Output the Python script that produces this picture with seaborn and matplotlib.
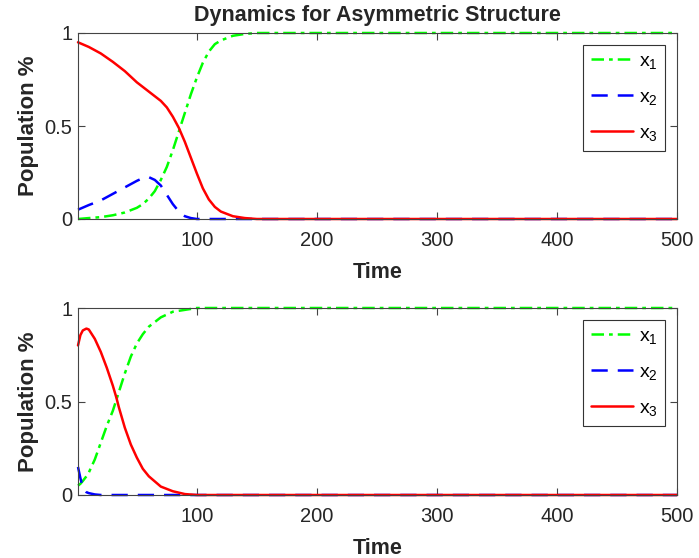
import matplotlib
matplotlib.use("Agg")
import matplotlib.pyplot as plt
import seaborn as sns
import pandas as pd

# values (time, share of population)
t_top = [1, 10, 20, 30, 40, 50, 55, 60, 65, 70, 75, 80, 85, 90, 95, 100, 105, 110, 115, 120, 130, 140, 150, 200, 300, 400, 500]
x1_top = [0.0, 0.005, 0.01, 0.02, 0.035, 0.06, 0.08, 0.11, 0.15, 0.21, 0.28, 0.37, 0.47, 0.57, 0.67, 0.76, 0.84, 0.90, 0.94, 0.96, 0.985, 0.995, 1.0, 1.0, 1.0, 1.0, 1.0]
x2_top = [0.05, 0.075, 0.10, 0.135, 0.17, 0.205, 0.22, 0.225, 0.21, 0.18, 0.13, 0.08, 0.04, 0.015, 0.005, 0.0, 0.0, 0.0, 0.0, 0.0, 0.0, 0.0, 0.0, 0.0, 0.0, 0.0, 0.0]
x3_top = [0.95, 0.925, 0.89, 0.845, 0.795, 0.735, 0.71, 0.685, 0.66, 0.635, 0.60, 0.55, 0.49, 0.415, 0.33, 0.245, 0.165, 0.105, 0.065, 0.04, 0.015, 0.005, 0.0, 0.0, 0.0, 0.0, 0.0]

t_bot = [1, 3, 5, 8, 10, 15, 20, 25, 30, 33, 35, 40, 45, 50, 55, 60, 70, 80, 90, 100, 200, 300, 400, 500]
x1_bot = [0.05, 0.06, 0.075, 0.10, 0.12, 0.19, 0.28, 0.37, 0.45, 0.51, 0.55, 0.65, 0.74, 0.81, 0.86, 0.90, 0.95, 0.98, 0.99, 1.0, 1.0, 1.0, 1.0, 1.0]
x2_bot = [0.15, 0.09, 0.04, 0.015, 0.01, 0.003, 0.0, 0.0, 0.0, 0.0, 0.0, 0.0, 0.0, 0.0, 0.0, 0.0, 0.0, 0.0, 0.0, 0.0, 0.0, 0.0, 0.0, 0.0]
x3_bot = [0.80, 0.855, 0.88, 0.89, 0.885, 0.835, 0.765, 0.68, 0.585, 0.52, 0.47, 0.36, 0.27, 0.20, 0.14, 0.10, 0.045, 0.02, 0.005, 0.0, 0.0, 0.0, 0.0, 0.0]

series_labels = ["x$_1$", "x$_2$", "x$_3$"]
x_ticks = [100, 200, 300, 400, 500]
y_ticks = [0, 0.5, 1]
y_ticklabels = ["0", "0.5", "1"]

sns.set_style("ticks")
plt.rcParams["font.family"] = ["Liberation Sans", "DejaVu Sans"]
plt.rcParams["mathtext.fontset"] = "custom"
plt.rcParams["mathtext.rm"] = "Liberation Sans"
plt.rcParams["mathtext.it"] = "Liberation Sans"
plt.rcParams["mathtext.default"] = "regular"

estilos = [("#00ff00", (0, (5, 2, 1.5, 2))), ("#0000ff", (0, (6.5, 4))), ("#ff0000", "-")]
texto = "#262626"

fig = plt.figure(figsize=(6.99, 5.58), dpi=100)
W, H = 699, 558
ax_top = fig.add_axes([78 / W, 1 - 219 / H, 599 / W, 186 / H])
ax_bot = fig.add_axes([78 / W, 1 - 495 / H, 599 / W, 187 / H])


def desenha(ax, t, series):
    for (cor, ls), y, lab in zip(estilos, series, series_labels):
        df = pd.DataFrame({"t": t, "v": y})
        sns.lineplot(data=df, x="t", y="v", ax=ax, color=cor, linestyle=ls,
                     linewidth=1.8, label=lab, clip_on=False)
    ax.set_xlim(1, 500)
    ax.set_ylim(0, 1)
    ax.set_xticks(x_ticks)
    ax.set_yticks(y_ticks)
    ax.set_yticklabels(y_ticklabels)
    ax.tick_params(direction="in", top=True, right=True, labelsize=14.5, length=5,
                   color="#444444", labelcolor=texto)
    ax.tick_params(axis="x", pad=9)
    ax.tick_params(axis="y", pad=4)
    for s in ax.spines.values():
        s.set_visible(True)
        s.set_color("#444444")
        s.set_linewidth(0.8)
    ax.set_xlabel("Time", fontsize=15.5, fontweight="bold", labelpad=8, color=texto)
    ax.set_ylabel("Population %", fontsize=16, fontweight="bold", labelpad=4, color=texto)
    leg = ax.legend(loc="upper right", fontsize=14, frameon=True, fancybox=False,
                    edgecolor="#333333", framealpha=1, handlelength=2.15,
                    borderpad=0.4, labelspacing=0.9, handletextpad=0.3,
                    borderaxespad=0.6)
    leg.get_frame().set_linewidth(0.8)
    for tx in leg.get_texts():
        tx.set_color("black")


desenha(ax_top, t_top, [x1_top, x2_top, x3_top])
desenha(ax_bot, t_bot, [x1_bot, x2_bot, x3_bot])
ax_top.set_title("Dynamics for Asymmetric Structure", fontsize=15.5, fontweight="bold", pad=9)

plt.savefig("out.png", dpi=100)
